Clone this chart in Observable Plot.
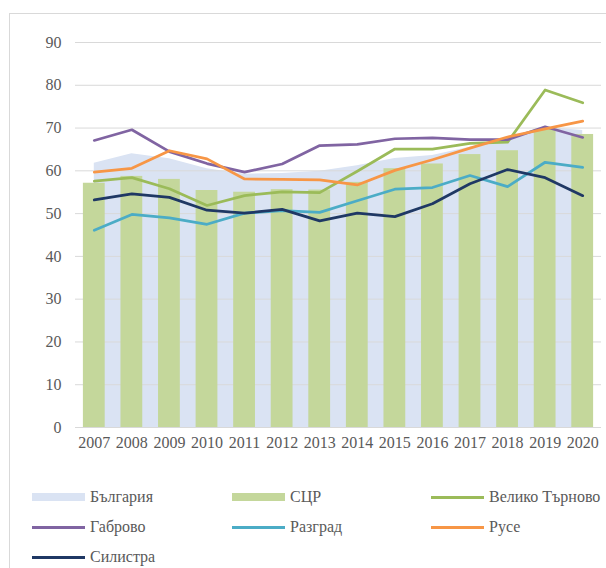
<!DOCTYPE html>
<html>
<head>
<meta charset="utf-8">
<script src="https://cdn.jsdelivr.net/npm/d3@7"></script>
<script src="https://cdn.jsdelivr.net/npm/@observablehq/plot@0.6"></script>
<style>
  html, body { margin: 0; padding: 0; background: #ffffff; }
  body { width: 606px; height: 568px; position: relative; overflow: hidden; font-family: 'Liberation Serif', 'Times New Roman', Times, serif; }
  #frame { position: absolute; left: 9px; top: 13px; width: 660px; height: 620px; border: 1px solid #d9d9d9; box-sizing: border-box; }
  #chart { position: absolute; left: 0; top: 0; }
  #chart svg, #chart svg text { font-family: 'Liberation Serif', 'Times New Roman', Times, serif !important; }
  .item { position: absolute; height: 20px; display: flex; align-items: center; font-size: 16px; color: #595959; white-space: nowrap; font-family: 'Liberation Serif', 'Times New Roman', Times, serif; }
  .sw { width: 53px; margin-right: 5px; }
</style>
</head>
<body>
<div id="frame"></div>
<div id="chart"></div>
<div id="legend"></div>
<script>
const years = [2007, 2008, 2009, 2010, 2011, 2012, 2013, 2014, 2015, 2016, 2017, 2018, 2019, 2020];
const yTicks = [0, 10, 20, 30, 40, 50, 60, 70, 80, 90];

const bulgaria = [61.8, 64.0, 62.8, 60.5, 59.2, 59.4, 59.9, 61.2, 62.9, 63.6, 65.5, 67.4, 70.2, 69.4];
const scr      = [57.1, 58.7, 58.0, 55.4, 55.0, 55.6, 55.5, 57.3, 60.5, 61.6, 63.8, 64.7, 69.7, 68.5];
const velikoTarnovo = [57.6, 58.4, 55.8, 51.9, 54.2, 55.1, 54.9, 59.9, 65.1, 65.1, 66.4, 66.7, 78.9, 75.9];
const gabrovo  = [67.1, 69.6, 64.5, 61.7, 59.7, 61.6, 65.9, 66.2, 67.5, 67.7, 67.3, 67.3, 70.3, 67.8];
const razgrad  = [46.1, 49.8, 49.0, 47.5, 50.1, 50.7, 50.3, 53.0, 55.7, 56.1, 58.9, 56.3, 62.0, 60.8];
const ruse     = [59.7, 60.6, 64.7, 62.8, 58.1, 58.0, 57.9, 56.7, 60.1, 62.6, 65.3, 67.9, 69.8, 71.6];
const silistra = [53.2, 54.6, 53.8, 50.8, 50.1, 51.0, 48.3, 50.1, 49.3, 52.3, 57.0, 60.3, 58.4, 54.2];

const lineNames = ["Велико Търново", "Габрово", "Разград", "Русе", "Силистра"];
const lineColors = ["#9bbb59", "#8064a2", "#4bacc6", "#f79646", "#1f3864"];
const lineSeries = [velikoTarnovo, gabrovo, razgrad, ruse, silistra];

const areaName = "България", areaColor = "#dae3f3";
const barName = "СЦР", barColor = "#c4d79b";

const areaData = years.map((y, i) => ({year: y, value: bulgaria[i]}));
const barData = years.map((y, i) => ({year: y, value: scr[i]}));
const lineData = lineSeries.flatMap((vals, s) => years.map((y, i) => ({series: lineNames[s], year: y, value: vals[i]})));

const chart = Plot.plot({
  width: 606,
  height: 460,
  marginLeft: 75,
  marginRight: 5,
  marginTop: 42,
  marginBottom: 33,
  style: {fontFamily: "'Liberation Serif', 'Times New Roman', Times, serif", fontSize: "16px", color: "#595959", background: "transparent"},
  x: {type: "band", domain: years, paddingInner: 0.42, paddingOuter: 0.21, round: false, label: null, tickSize: 0, tickPadding: 9, tickFormat: d => String(d)},
  y: {domain: [0, 90], ticks: yTicks, label: null, tickSize: 0, tickPadding: 14, tickFormat: d => String(d)},
  color: {domain: lineNames, range: lineColors},
  marks: [
    Plot.areaY(areaData, {x: "year", y: "value", fill: areaColor}),
    Plot.gridY(yTicks.filter(d => d > 0), {stroke: "#d9d9d9", strokeOpacity: 1, strokeWidth: 1}),
    Plot.barY(barData, {x: "year", y: "value", fill: barColor}),
    Plot.ruleY([0], {stroke: "#d9d9d9", strokeWidth: 1.2}),
    Plot.lineY(lineData, {x: "year", y: "value", z: "series", stroke: "series", strokeWidth: 2.75, strokeLinejoin: "round", strokeLinecap: "round"})
  ]
});
document.getElementById("chart").appendChild(chart);

// Legend
const legendItems = [
  {name: areaName, color: areaColor, h: 8},
  {name: barName, color: barColor, h: 8},
  ...lineNames.map((n, i) => ({name: n, color: lineColors[i], h: 3}))
];
const colX = [32, 232, 431];
const rowY = [497, 527, 557];
const leg = document.getElementById("legend");
legendItems.forEach((it, i) => {
  const div = document.createElement("div");
  div.className = "item";
  div.style.left = colX[i % 3] + "px";
  div.style.top = (rowY[Math.floor(i / 3)] - 10) + "px";
  const sw = document.createElement("span");
  sw.className = "sw";
  sw.style.height = it.h + "px";
  sw.style.background = it.color;
  div.appendChild(sw);
  div.appendChild(document.createTextNode(it.name));
  leg.appendChild(div);
});
</script>
</body>
</html>
